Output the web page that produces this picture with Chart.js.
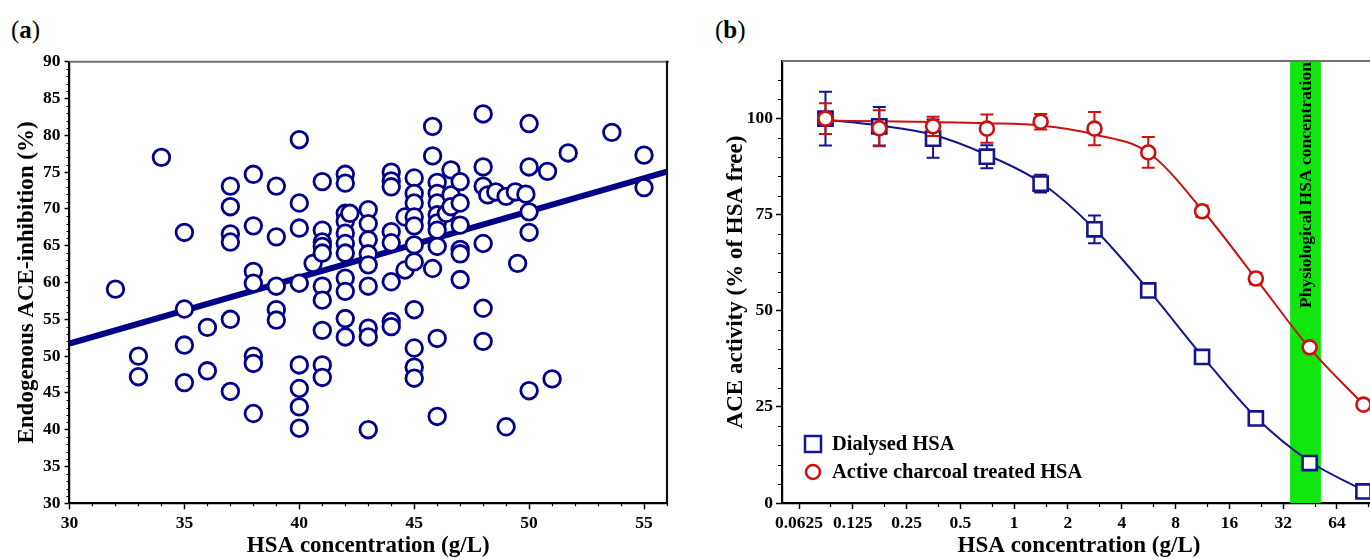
<!DOCTYPE html>
<html><head><meta charset="utf-8">
<script src="https://cdn.jsdelivr.net/npm/chart.js@4/dist/chart.umd.min.js"></script>
<style>
html,body{margin:0;padding:0;width:1370px;height:560px;overflow:hidden;background:#fff;}
#wa{position:absolute;left:0;top:0;width:690px;height:560px;}
#wb{position:absolute;left:690px;top:0;width:700px;height:560px;}
.lbl{position:absolute;font-family:"Liberation Serif",serif;font-size:25px;color:#000;line-height:28px;}
</style></head><body>
<div class="lbl" style="left:11px;top:16px">(<b>a</b>)</div>
<div class="lbl" style="left:715px;top:16px">(<b>b</b>)</div>
<div id="wa"><canvas id="ca" width="690" height="560"></canvas></div>
<div id="wb"><canvas id="cb" width="700" height="560"></canvas></div>
<script>
// ---------- Panel (a) data ----------
const aHSA = [32,33,33,34,35,35,35,35,36,36,37,37,37,37,37,37,38,38,38,38,38,38,38,39,39,39,39,39,40,40,40,40,40,40,40,40,40.6,41,41,41,41,41,41,41,41,41,41,42,42,42,42,42,42,42,42,42,42,42,42.2,43,43,43,43,43,43,43,43,43,44,44,44,44,44,44,44,44,44.6,44.6,45,45,45,45,45,45,45,45,45,45,45,45.8,45.8,45.8,46,46,46,46,46,46,46,46,46,46.4,46.6,46.6,46.6,47,47,47,47,47,47,48,48,48,48,48,48,48.2,48.55,49,49,49.4,49.5,49.86,50,50,50,50,50,50.8,51,51.7,53.6,55,55];
const aInhibition = [59.1,50.0,47.2,77.0,66.8,56.4,51.5,46.4,53.9,48.0,73.1,70.3,66.6,65.5,55.0,45.2,74.7,67.7,61.5,59.9,50.0,49.0,42.2,73.1,66.2,59.5,56.3,54.9,79.4,70.8,67.4,59.9,48.8,45.6,43.1,40.2,62.6,73.7,67.1,65.5,64.9,64.0,59.5,57.6,53.5,48.8,47.1,74.7,73.5,69.4,68.3,66.7,65.3,64.0,60.6,58.8,55.1,52.6,69.4,69.9,68.0,65.8,63.9,62.4,59.5,53.8,52.6,40.0,75.0,73.8,73.0,66.9,65.4,60.1,54.7,54.0,68.9,61.7,74.2,72.1,70.8,68.9,67.7,65.1,62.8,56.3,51.1,48.5,47.0,81.2,77.2,61.9,73.6,72.1,70.8,69.2,68.1,67.1,64.9,52.4,41.8,69.4,75.3,71.9,70.3,73.7,70.8,67.8,64.5,63.9,60.4,82.9,75.7,73.1,65.3,56.5,52.0,71.9,72.3,71.7,40.4,72.3,62.6,72.0,81.6,75.7,69.6,66.8,45.3,75.1,46.9,77.6,80.4,77.3,72.9];
const aRegX = [30, 56];
const aRegY = [51.7, 75.05];
const aXTicks = [30,35,40,45,50,55];
const aYTicks = [30,35,40,45,50,55,60,65,70,75,80,85,90];
const aXMinor = [31,32,33,34,36,37,38,39,41,42,43,44,46,47,48,49,51,52,53,54,56];
const aYMinor = [31,32,33,34,36,37,38,39,41,42,43,44,46,47,48,49,51,52,53,54,56,57,58,59,61,62,63,64,66,67,68,69,71,72,73,74,76,77,78,79,81,82,83,84,86,87,88,89];

// ---------- Panel (b) data ----------
const bConc = [0.0879,0.1758,0.3516,0.7031,1.406,2.8125,5.625,11.25,22.5,45,90];
const bDialysed = [100,98,94.8,90.1,83.1,71.2,55.3,38,22,10.4,3];
const bDialysedErr = [7,5,5,3,2.3,3.6,0.8,0.8,0.8,0.8,0.8];
const bDialysedFit = [99.7,98.2,95.8,90.6,83.4,71.3,55.5,38.3,22.3,10.8,3.3];
const bCharcoal = [100,97.5,98,97.4,99.2,97.4,91.2,75.9,58.4,40.5,25.6];
const bCharcoalErr = [4,4.7,2.5,3.7,2,4.3,4,1.5,1.5,0.5,0.5];
const bCharcoalFit = [99.5,99.3,99.1,98.8,98.2,95.9,91.2,76.3,58.4,40.3,25.6];
const bXTicks = [0.0625,0.125,0.25,0.5,1,2,4,8,16,32,64];
const bXLabels = ['0.0625','0.125','0.25','0.5','1','2','4','8','16','32','64'];
const bXMinor = [0.09375,0.1875,0.375,0.75,1.5,3,6,12,24,48,96];
const bYTicks = [0,25,50,75,100];
const bYMinor = [5,10,15,20,30,35,40,45,55,60,65,70,80,85,90,95,105,110];
const physioRange = [35, 52];

const FF = '"Liberation Serif","Times New Roman",serif';
const NAVY = '#000088';
const BLUE = '#14148e';
const RED = '#cc1010';

const deco = {
  id:'deco',
  afterDraw(chart, args, o){
    const {ctx, chartArea:a, scales} = chart; const x=scales.x, y=scales.y;
    ctx.save();
    ctx.strokeStyle='#000'; ctx.lineWidth=1.2; ctx.beginPath();
    (o.xMinor||[]).forEach(v=>{ if(v<x.min||v>x.max) return; const p=Math.round(x.getPixelForValue(v))+0.5; ctx.moveTo(p,a.bottom); ctx.lineTo(p,a.bottom+o.minorLen);});
    (o.yMinor||[]).forEach(v=>{ if(v<y.min||v>y.max) return; const p=Math.round(y.getPixelForValue(v))+0.5; ctx.moveTo(a.left,p); ctx.lineTo(a.left-o.minorLen,p);});
    ctx.stroke();
    ctx.strokeStyle=o.topColor; ctx.lineWidth=o.topWidth;
    ctx.beginPath(); ctx.moveTo(a.left,a.top); ctx.lineTo(a.right+2,a.top); ctx.stroke();
    if(o.right){ ctx.strokeStyle='#111'; ctx.lineWidth=2.2; ctx.beginPath(); ctx.moveTo(a.right,a.top-1); ctx.lineTo(a.right,a.bottom+1); ctx.stroke(); }
    ctx.restore();
  }
};

const band = {
  id:'band',
  beforeDatasetsDraw(chart, args, o){
    if(!o.range) return;
    const {ctx, chartArea:a, scales:{x}} = chart;
    const x0=x.getPixelForValue(o.range[0]), x1=x.getPixelForValue(o.range[1]);
    ctx.save();
    ctx.fillStyle=o.color; ctx.fillRect(x0,a.top,x1-x0,a.bottom-a.top);
    ctx.translate((x0+x1)/2+1, o.textBottom); ctx.rotate(-Math.PI/2);
    ctx.font='bold '+o.fontSize+'px '+FF; ctx.fillStyle='#000'; ctx.textAlign='left'; ctx.textBaseline='middle';
    ctx.fillText(o.text,0,0);
    ctx.restore();
  }
};

const errBars = {
  id:'errBars',
  beforeDatasetDraw(chart, args){
    const ds=chart.data.datasets[args.index]; if(!ds.errorBars) return;
    const {ctx, scales:{x,y}} = chart;
    ctx.save(); ctx.strokeStyle=ds.borderColor; ctx.lineWidth=2;
    ds.data.forEach((p,i)=>{
      const e=ds.errorBars[i]; if(!e) return;
      const px=x.getPixelForValue(p.x), t=y.getPixelForValue(p.y+e), b=y.getPixelForValue(p.y-e);
      ctx.beginPath(); ctx.moveTo(px,t); ctx.lineTo(px,b);
      ctx.moveTo(px-6.5,t); ctx.lineTo(px+6.5,t); ctx.moveTo(px-6.5,b); ctx.lineTo(px+6.5,b); ctx.stroke();
    });
    ctx.restore();
  }
};

const inLegend = {
  id:'inLegend',
  afterDraw(chart, args, o){
    if(!o.items) return;
    const ctx=chart.ctx; ctx.save();
    o.items.forEach(it=>{
      const ds=chart.data.datasets[it.ds];
      ctx.strokeStyle=ds.borderColor; ctx.fillStyle='#fff'; ctx.lineWidth=2.5;
      ctx.beginPath();
      if(it.style==='rect'){ ctx.rect(it.x-it.r, it.y-it.r, 2*it.r, 2*it.r); }
      else { ctx.arc(it.x, it.y, it.r, 0, Math.PI*2); }
      ctx.fill(); ctx.stroke();
      ctx.fillStyle='#000'; ctx.font='bold '+o.fontSize+'px '+FF; ctx.textAlign='left'; ctx.textBaseline='middle';
      ctx.fillText(ds.label, o.textX, it.y+1);
    });
    ctx.restore();
  }
};

const pts = (xs, ys) => xs.map((v,i)=>({x:v, y:ys[i]}));
const tickFont = {family:FF, size:17.5, weight:'bold'};
const titleFont = {family:FF, size:23, weight:'bold'};

// ---------- Chart (a) ----------
new Chart(document.getElementById('ca'), {
  type:'scatter',
  data:{datasets:[
    {label:'Patients', data:pts(aHSA,aInhibition), pointStyle:'circle', pointRadius:8.3, pointHoverRadius:8.3,
     borderWidth:2.8, borderColor:NAVY, backgroundColor:'#fff', order:1},
    {type:'line', label:'Regression', data:pts(aRegX,aRegY), borderColor:NAVY, borderWidth:6, pointRadius:0, fill:false, order:2}
  ]},
  options:{
    responsive:false, animation:false, events:[],
    layout:{padding:{left:0, top:61.7, right:23, bottom:0}},
    plugins:{legend:{display:false}, tooltip:{enabled:false},
      deco:{xMinor:aXMinor, yMinor:aYMinor, minorLen:3, topColor:'#707070', topWidth:2, right:true}},
    scales:{
      x:{type:'linear', min:30, max:56,
        afterBuildTicks:s=>{s.ticks=aXTicks.map(v=>({value:v}));},
        afterFit:s=>{s.height=56.7;},
        grid:{display:true, drawOnChartArea:false, drawTicks:true, tickLength:6, tickColor:'#000', tickWidth:1.5},
        border:{display:true, color:'#000', width:2.2},
        ticks:{font:tickFont, color:'#000', padding:4, maxRotation:0, autoSkip:false},
        title:{display:true, text:'HSA concentration (g/L)', font:titleFont, color:'#000', padding:{top:0,bottom:0}}},
      y:{type:'linear', min:30, max:90,
        afterBuildTicks:s=>{s.ticks=aYTicks.map(v=>({value:v}));},
        afterFit:s=>{s.width=69.5;},
        grid:{display:true, drawOnChartArea:false, drawTicks:true, tickLength:5, tickColor:'#000', tickWidth:1.5},
        border:{display:true, color:'#000', width:2.2},
        ticks:{font:tickFont, color:'#000', padding:4, autoSkip:false},
        title:{display:true, text:'Endogenous ACE-inhibition (%)', font:titleFont, color:'#000', padding:{top:13,bottom:0}}}
    }
  },
  plugins:[deco]
});

// ---------- Chart (b) ----------
new Chart(document.getElementById('cb'), {
  type:'scatter',
  data:{datasets:[
    {label:'Active charcoal treated HSA', data:pts(bConc,bCharcoal), pointStyle:'circle', pointRadius:7, pointHoverRadius:7,
     borderWidth:2.6, borderColor:RED, backgroundColor:'#fff', errorBars:bCharcoalErr, order:0},
    {label:'Dialysed HSA', data:pts(bConc,bDialysed), pointStyle:'rect', pointRadius:10, pointHoverRadius:10,
     borderWidth:2.6, borderColor:BLUE, backgroundColor:'#fff', errorBars:bDialysedErr, order:1},
    {type:'line', label:'Charcoal fit', data:pts(bConc,bCharcoalFit), borderColor:RED, borderWidth:2, pointRadius:0, fill:false, cubicInterpolationMode:'monotone', order:2},
    {type:'line', label:'Dialysed fit', data:pts(bConc,bDialysedFit), borderColor:BLUE, borderWidth:2, pointRadius:0, fill:false, cubicInterpolationMode:'monotone', order:3}
  ]},
  options:{
    responsive:false, animation:false, events:[],
    layout:{padding:{left:0, top:61, right:14, bottom:0}},
    plugins:{legend:{display:false}, tooltip:{enabled:false},
      deco:{xMinor:bXMinor, yMinor:bYMinor, minorLen:4, topColor:'#707070', topWidth:2, right:false},
      band:{range:physioRange, color:'#0ee60e', text:'Physiological HSA concentration', textBottom:308, fontSize:17.5},
      inLegend:{fontSize:20.5, textX:142, items:[{ds:1, style:'rect', r:8, x:123, y:444},{ds:0, style:'circle', r:7, x:123, y:472}]}},
    scales:{
      x:{type:'logarithmic', min:0.0502, max:105.8,
        afterBuildTicks:s=>{s.ticks=bXTicks.map(v=>({value:v}));},
        afterFit:s=>{s.height=57;},
        grid:{display:true, drawOnChartArea:false, drawTicks:true, tickLength:6, tickColor:'#000', tickWidth:1.5},
        border:{display:true, color:'#000', width:2.2},
        ticks:{font:tickFont, color:'#000', padding:4, maxRotation:0, autoSkip:false, callback:(v,i)=>bXLabels[i]},
        title:{display:true, text:'HSA concentration (g/L)', font:titleFont, color:'#000', padding:{top:0,bottom:0}}},
      y:{type:'linear', min:0, max:115,
        afterBuildTicks:s=>{s.ticks=bYTicks.map(v=>({value:v}));},
        afterFit:s=>{s.width=92;},
        grid:{display:true, drawOnChartArea:false, drawTicks:true, tickLength:6, tickColor:'#000', tickWidth:1.5},
        border:{display:true, color:'#000', width:2.2},
        ticks:{font:tickFont, color:'#000', padding:3, autoSkip:false},
        title:{display:true, text:'ACE activity (% of HSA free)', font:titleFont, color:'#000', padding:{top:32,bottom:0}}}
    }
  },
  plugins:[band, errBars, deco, inLegend]
});
</script>
</body></html>
